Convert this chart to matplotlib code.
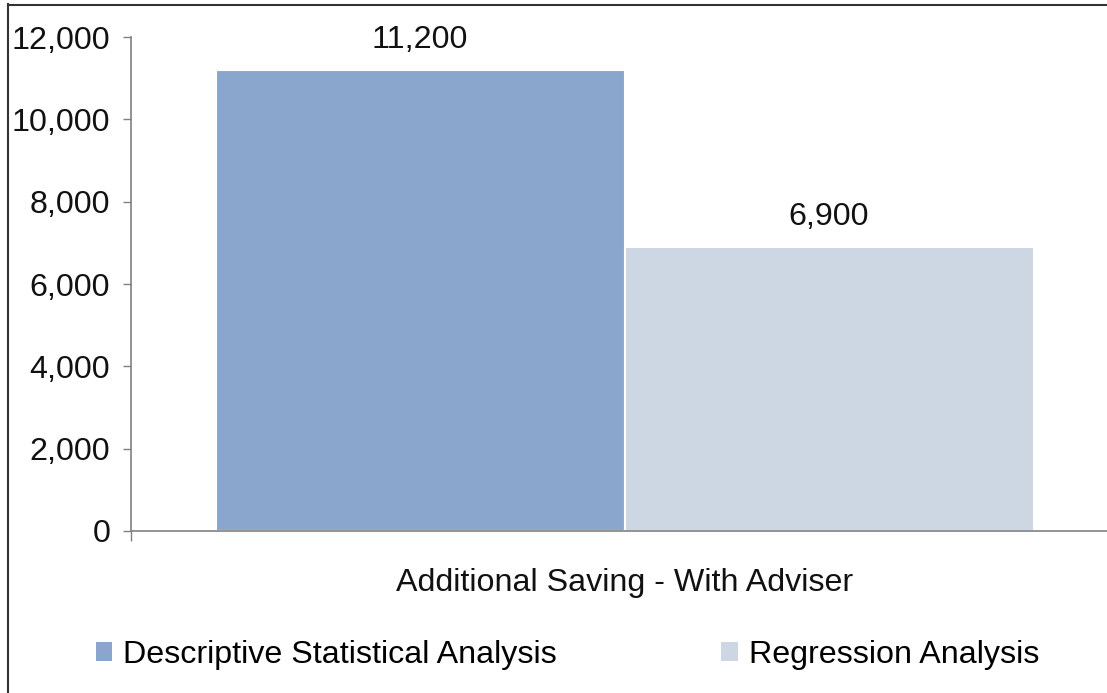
import matplotlib
matplotlib.use("Agg")
import matplotlib.pyplot as plt
from matplotlib.lines import Line2D
from matplotlib.patches import Patch

plt.rcParams['font.family'] = ['Liberation Sans', 'DejaVu Sans']

series = ["Descriptive Statistical Analysis", "Regression Analysis"]
values = [11200, 6900]
category = "Additional Saving - With Adviser"
colors = ["#8AA6CD", "#CCD7E3"]
yticks = [0, 2000, 4000, 6000, 8000, 10000, 12000]

FS = 23.2
W, H = 1107, 693
fig = plt.figure(figsize=(W/100, H/100), dpi=100)
ax_h = (531-37)/H
ax = fig.add_axes([131/W, 1-531/H, 1-131/W, ax_h])

xs = [-0.5, 0.5]
ax.bar(xs, values, width=1.0, color=colors, edgecolor="white", linewidth=1.5)
for x, v in zip(xs, values):
    ax.annotate(f"{v:,}", (x, v), xytext=(0, 10.5), textcoords="offset points",
                ha="center", va="bottom", fontsize=FS, color="#111111")

left, right = (131-624.5)/409, (1107-624.5)/409
ax.set_xlim(left, right)
ax.set_ylim(0, 12000)
ax.set_yticks(yticks)
ax.set_yticklabels([f"{t:,}" for t in yticks], fontsize=FS, color="#111111")
ax.set_xticks([left])
ax.set_xticklabels([""])
ax.tick_params(axis='y', direction='out', length=6, width=1, color="#808080", pad=9)
ax.tick_params(axis='x', direction='out', length=7, width=1, color="#808080")
for s in ["top", "right"]:
    ax.spines[s].set_visible(False)
for s in ["left", "bottom"]:
    ax.spines[s].set_color("#808080")
    ax.spines[s].set_linewidth(1.2)

ax.text(0.0, -52/494, category, transform=ax.get_xaxis_transform(),
        ha="center", va="center", fontsize=FS, color="#111111")

handles = [Patch(facecolor=c, edgecolor="none") for c in colors]
fig.legend(handles, series, loc="center left", bbox_to_anchor=(96/W, 1-655/H),
           ncol=2, frameon=False, fontsize=FS, handlelength=0.5, handleheight=0.5,
           handletextpad=0.35, columnspacing=5.1, borderpad=0, borderaxespad=0)

fig.add_artist(Line2D([7.5/W, 7.5/W], [0, 1-4/H], transform=fig.transFigure, color="#333333", lw=1.5))
fig.add_artist(Line2D([7.5/W, 1], [1-4.5/H, 1-4.5/H], transform=fig.transFigure, color="#333333", lw=1.5))

fig.savefig("out.png", dpi=100)
